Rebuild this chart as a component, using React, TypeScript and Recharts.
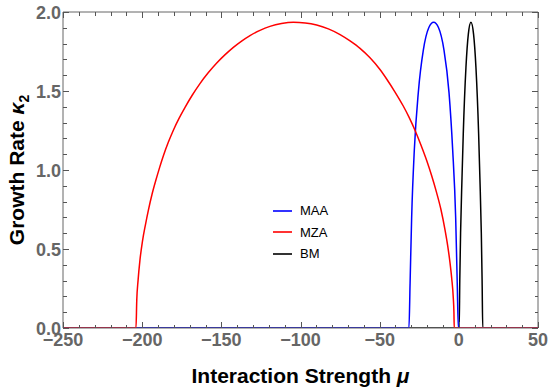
import React from 'react';
import { LineChart, Line, XAxis, YAxis, ReferenceLine, Legend } from 'recharts';

// values
const maaMu = [-250, -31.5, -30.8, -29.8, -28.1, -25.6, -22.4, -19.0, -15.9, -12.8, -9.4, -6.2, -3.9, -2.0, -1.0, -0.3, 50];
const maaRate = [0, 0, 0.28, 0.7, 1.13, 1.49, 1.76, 1.9, 1.935, 1.9, 1.76, 1.49, 1.13, 0.7, 0.28, 0, 0];

const mzaMu = [-250, -203.9, -203.4, -202.6, -201.4, -199.8, -198.0, -196.1, -193.8, -191.5, -189.0, -186.6, -183.5, -180.3, -176.8, -173.0, -168.4, -163.5, -158.3, -152.9, -147.6, -142.4, -137.2, -131.9, -125.6, -119.3, -112.0, -104.5, -97.0, -89.8, -82.4, -75.0, -68.7, -62.4, -56.1, -49.8, -45.6, -40.4, -35.1, -31.4, -27.7, -24.0, -20.3, -17.2, -14.0, -11.3, -8.7, -7.1, -5.6, -4.5, -3.5, -3.1, -2.9, 50];
const mzaRate = [0, 0, 0.18, 0.3, 0.43, 0.55, 0.65, 0.745, 0.845, 0.93, 1.015, 1.09, 1.175, 1.252, 1.325, 1.395, 1.473, 1.547, 1.615, 1.677, 1.73, 1.776, 1.816, 1.851, 1.884, 1.909, 1.927, 1.935, 1.931, 1.918, 1.893, 1.857, 1.817, 1.77, 1.71, 1.636, 1.576, 1.495, 1.405, 1.333, 1.252, 1.16, 1.06, 0.965, 0.855, 0.75, 0.62, 0.525, 0.415, 0.315, 0.19, 0.1, 0, 0];

const bmMu = [-250, 0.2, 0.6, 1.1, 2.0, 2.8, 4.5, 6.0, 7.65, 9.3, 10.8, 12.5, 13.3, 14.2, 14.7, 15.1, 50];
const bmRate = [0, 0, 0.3, 0.6, 0.95, 1.23, 1.65, 1.86, 1.935, 1.86, 1.65, 1.23, 0.95, 0.6, 0.3, 0, 0];

const xTicks = [-250, -240, -230, -220, -210, -200, -190, -180, -170, -160, -150, -140, -130, -120, -110, -100, -90, -80, -70, -60, -50, -40, -30, -20, -10, 0, 10, 20, 30, 40, 50];
const yTicks = [0, 0.1, 0.2, 0.3, 0.4, 0.5, 0.6, 0.7, 0.8, 0.9, 1.0, 1.1, 1.2, 1.3, 1.4, 1.5, 1.6, 1.7, 1.8, 1.9, 2.0];
const legendOrder = ['MAA', 'MZA', 'BM'];

const maaData = maaMu.map((x, i) => ({ x, y: maaRate[i] }));
const mzaData = mzaMu.map((x, i) => ({ x, y: mzaRate[i] }));
const bmData = bmMu.map((x, i) => ({ x, y: bmRate[i] }));

const FONT = '"Liberation Sans", Arial, Helvetica, sans-serif';
const FRAME = '#666666';
const TICK = '#555555';
const W = 550;
const H = 390;
const TOP = 12;
const RIGHT = 12;
const LEFT_W = 63;
const BOTTOM_H = 62;
const PLOT_TOP = TOP;
const PLOT_RIGHT = W - RIGHT;

const X_MIN = -250;
const X_MAX = 50;
const Y_MIN = 0;
const Y_MAX = 2;

const isXMajor = (v: number) => v % 50 === 0;
const isYMajor = (v: number) => Math.abs(v * 2 - Math.round(v * 2)) < 1e-6;
const fmtX = (v: number) => (v < 0 ? '\u2212' + Math.abs(v) : String(v));
const crisp = (p: number) => Math.round(p) + 0.5;

const XTick = (props: any) => {
  const { x, y, payload } = props;
  const v = payload.value;
  const major = isXMajor(v);
  const len = major ? 6 : 3.5;
  const cx = crisp(x);
  return (
    <g>
      <line x1={cx} x2={cx} y1={y} y2={y - len} stroke={TICK} strokeWidth={1} shapeRendering="crispEdges" />
      <line x1={cx} x2={cx} y1={PLOT_TOP} y2={PLOT_TOP + len} stroke={TICK} strokeWidth={1} shapeRendering="crispEdges" />
      {major && (
        <text x={x} y={y + 18} textAnchor="middle" fill={FRAME} fontFamily={FONT} fontSize={18} fontWeight="bold">
          {fmtX(v)}
        </text>
      )}
    </g>
  );
};

const YTick = (props: any) => {
  const { x, y, payload } = props;
  const v = payload.value;
  const major = isYMajor(v);
  const len = major ? 6 : 3.5;
  const cy = crisp(y);
  return (
    <g>
      <line x1={x} x2={x + len} y1={cy} y2={cy} stroke={TICK} strokeWidth={1} shapeRendering="crispEdges" />
      <line x1={PLOT_RIGHT} x2={PLOT_RIGHT - len} y1={cy} y2={cy} stroke={TICK} strokeWidth={1} shapeRendering="crispEdges" />
      {major && (
        <text x={x - 2} y={y + 6.5} textAnchor="end" fill={FRAME} fontFamily={FONT} fontSize={18} fontWeight="bold">
          {v.toFixed(1)}
        </text>
      )}
    </g>
  );
};

const XLabel = (props: any) => {
  const { viewBox } = props;
  const cx = viewBox.x + viewBox.width / 2;
  return (
    <text x={cx} y={383} textAnchor="middle" fill="#000" fontFamily={FONT} fontSize={21} fontWeight="bold">
      Interaction Strength <tspan fontStyle="italic">{'\u03bc'}</tspan>
    </text>
  );
};

const YLabel = (props: any) => {
  const { viewBox } = props;
  const cy = viewBox.y + viewBox.height / 2;
  return (
    <text
      x={0}
      y={0}
      transform={`translate(24, ${cy}) rotate(-90)`}
      textAnchor="middle"
      fill="#000"
      fontFamily={FONT}
      fontSize={21}
      fontWeight="bold"
    >
      Growth Rate <tspan fontStyle="italic">{'\u03ba'}</tspan>
      <tspan fontSize={14} dy={5}>2</tspan>
    </text>
  );
};

const LegendBox = (props: any) => {
  const items = [...(props.payload || [])].sort(
    (a: any, b: any) => legendOrder.indexOf(a.value) - legendOrder.indexOf(b.value)
  );
  return (
    <div style={{ fontFamily: FONT, fontSize: 13, color: '#000' }}>
      {items.map((p: any) => (
        <div key={p.value} style={{ display: 'flex', alignItems: 'center', height: 21.5 }}>
          <svg width={20} height={4} style={{ display: 'block' }}>
            <line x1={0} x2={19} y1={2} y2={2} stroke={p.color} strokeWidth={1.6} />
          </svg>
          <span style={{ marginLeft: 7 }}>{p.value}</span>
        </div>
      ))}
    </div>
  );
};

export default function App() {
  return (
    <div style={{ position: 'absolute', left: 0, top: 0, width: W, height: H, background: '#fff' }}>
      <LineChart width={W} height={H} margin={{ top: TOP, right: RIGHT, left: 0, bottom: 0 }}>
        <XAxis
          dataKey="x"
          type="number"
          domain={[X_MIN, X_MAX]}
          ticks={xTicks}
          interval={0}
          allowDataOverflow
          height={BOTTOM_H}
          tickLine={false}
          tickSize={0}
          tickMargin={0}
          axisLine={{ stroke: FRAME, strokeWidth: 1 }}
          tick={<XTick />}
          label={<XLabel />}
        />
        <YAxis
          type="number"
          domain={[Y_MIN, Y_MAX]}
          ticks={yTicks}
          interval={0}
          allowDataOverflow
          width={LEFT_W}
          tickLine={false}
          tickSize={0}
          tickMargin={0}
          axisLine={{ stroke: FRAME, strokeWidth: 1 }}
          tick={<YTick />}
          label={<YLabel />}
        />
        <ReferenceLine y={Y_MAX} stroke={FRAME} strokeWidth={1} />
        <ReferenceLine x={X_MAX} stroke={FRAME} strokeWidth={1} />
        <Legend
          layout="vertical"
          align="center"
          verticalAlign="middle"
          content={<LegendBox />}
          wrapperStyle={{ left: 273, top: 200, width: 80 }}
        />
        <Line data={bmData} dataKey="y" name="BM" type="monotone" stroke="#000000" strokeWidth={1.5} dot={false} isAnimationActive={false} />
        <Line data={maaData} dataKey="y" name="MAA" type="monotone" stroke="#0000ff" strokeWidth={1.5} dot={false} isAnimationActive={false} />
        <Line data={mzaData} dataKey="y" name="MZA" type="monotone" stroke="#ff0000" strokeWidth={1.5} dot={false} isAnimationActive={false} />
      </LineChart>
    </div>
  );
}
